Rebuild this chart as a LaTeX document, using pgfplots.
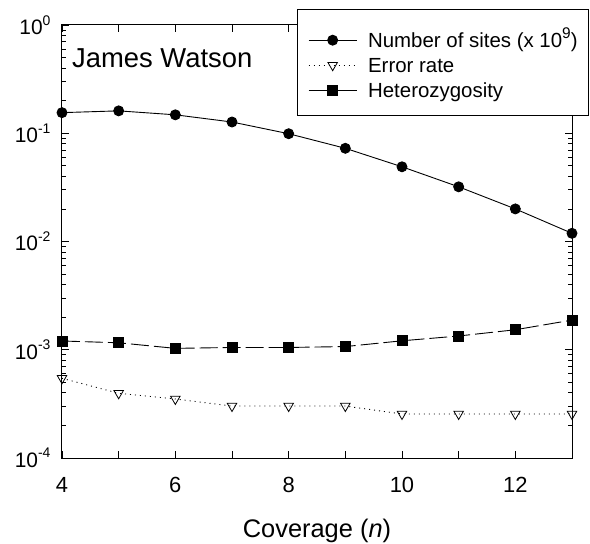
\documentclass[border=0pt]{standalone}
\usepackage{fontspec}
\setmainfont{Liberation Sans}
\usepackage{pgfplots}
\pgfplotsset{compat=1.18}
\newcommand{\tp}[1]{10\raisebox{0.45em}{\fontsize{14}{14}\selectfont #1}}
\begin{document}
\begin{tikzpicture}
\begin{axis}[
  scale only axis, width=510bp, height=433bp,
  ymode=log, xmin=4, xmax=13, ymin=1e-4, ymax=1,
  xtick={4,5,6,7,8,9,10,11,12,13},
  xticklabels={4,,6,,8,,10,,12,},
  ytick={1e-4,1e-3,1e-2,1e-1,1},
  yticklabels={\tp{-4},\tp{-3},\tp{-2},\tp{-1},\tp{0}},
  minor ytick={2e-4,3e-4,4e-4,5e-4,6e-4,7e-4,8e-4,9e-4,2e-3,3e-3,4e-3,5e-3,6e-3,7e-3,8e-3,9e-3,2e-2,3e-2,4e-2,5e-2,6e-2,7e-2,8e-2,9e-2,2e-1,3e-1,4e-1,5e-1,6e-1,7e-1,8e-1,9e-1},
  tick align=inside,
  major tick length=7bp, minor tick length=4bp,
  axis line style={line width=1bp},
  every tick/.style={black, line width=0.8bp},
  xticklabel style={font=\fontsize{22}{26}\selectfont, yshift=-16bp},
  yticklabel style={font=\fontsize{21}{25}\selectfont, xshift=-8bp},
  xlabel={Coverage (\textit{n})},
  xlabel style={font=\fontsize{25.5}{30}\selectfont, yshift=-19bp},
  clip=false,
  legend cell align=left,
  legend style={at={(0.4824,0.9942)}, anchor=north west, draw=none, fill=none,
    inner sep=0pt, column sep=11bp, row sep=0pt,
    font=\fontsize{20.5}{24}\selectfont,
    nodes={text height=17bp, text depth=3bp, inner ysep=2.5bp, inner xsep=0pt}},
  legend image code/.code={\draw[mark repeat=2,mark phase=2] plot coordinates {(0bp,0bp)(24bp,0bp)(48bp,0bp)};},
]
\addplot[black, line width=0.9bp, mark=*, mark size=5bp, mark options={solid, fill=black}]
  coordinates {(4,0.155)(5,0.161)(6,0.148)(7,0.127)(8,0.099)(9,0.0726)(10,0.049)(11,0.032)(12,0.020)(13,0.0119)};
\addlegendentry{Number of sites (x 10\raisebox{0.42em}{\fontsize{15.5}{15}\selectfont 9})}
\addplot[black, line width=0.9bp, dash pattern=on 1bp off 4bp, mark=triangle, mark size=5.5bp, mark options={solid, rotate=180, fill=white, line width=0.8bp}]
  coordinates {(4,0.000545)(5,0.000396)(6,0.000351)(7,0.000302)(8,0.000302)(9,0.000302)(10,0.000255)(11,0.000255)(12,0.000255)(13,0.000255)};
\addlegendentry{Error rate}
\addplot[black, line width=0.9bp, dash pattern=on 18bp off 5bp, mark=square*, mark size=5bp, mark options={solid, fill=black},
  legend image code/.code={\draw[solid,mark repeat=2,mark phase=2] plot coordinates {(0bp,0bp)(24bp,0bp)(48bp,0bp)};}]
  coordinates {(4,0.001205)(5,0.00116)(6,0.00103)(7,0.00105)(8,0.00105)(9,0.00107)(10,0.00121)(11,0.00134)(12,0.00153)(13,0.00188)};
\addlegendentry{Heterozygosity}
\draw[line width=0.8bp, fill=white] (axis description cs:0.4608,1.037) rectangle (axis description cs:1.0314,0.7921);
\node[anchor=base west, inner sep=0pt, font=\fontsize{27.5}{32}\selectfont] at (axis description cs:0.0196,0.9007) {James Watson};
\end{axis}
\pgfresetboundingbox
\path[use as bounding box] (-62bp,-86bp) rectangle (528bp,458bp);
\end{tikzpicture}
\end{document}
